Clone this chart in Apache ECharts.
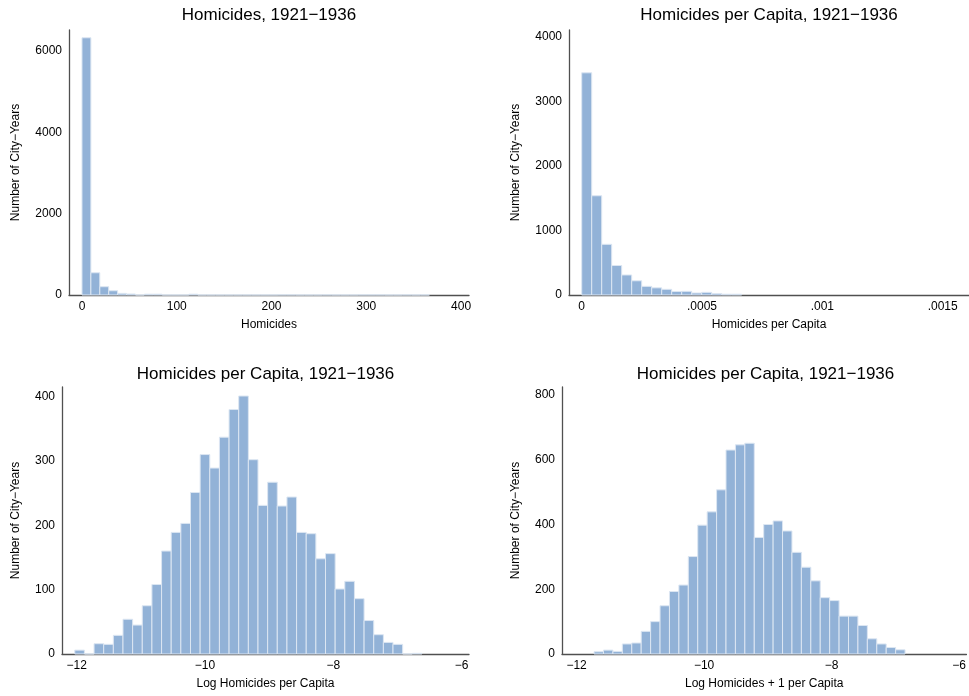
<!DOCTYPE html>
<html>
<head>
<meta charset="utf-8">
<script src="https://cdn.jsdelivr.net/npm/echarts@6/dist/echarts.min.js"></script>
<style>
html,body{margin:0;padding:0;background:#fff;}
#chart{width:969px;height:696px;}
</style>
</head>
<body>
<div id="chart"></div>
<script>
// ---- data ----
const titles = ["Homicides, 1921\u22121936", "Homicides per Capita, 1921\u22121936", "Homicides per Capita, 1921\u22121936", "Homicides per Capita, 1921\u22121936"];
const xNames = ["Homicides", "Homicides per Capita", "Log Homicides per Capita", "Log Homicides + 1 per Capita"];
const yName = "Number of City\u2212Years";

// panel 1: homicides
const bins1Start = 0;
const bins1Width = 9.4;
const counts1 = [6325, 547, 204, 105, 40, 25, 0, 20, 20, 0, 0, 0, 20, 0, 0, 0, 0, 0, 0, 0, 0, 0, 2, 2, 0, 0, 0, 2, 0, 0, 0, 2, 2, 2, 0, 0, 2, 0, 2];
const xTicks1 = [0, 100, 200, 300, 400];
const yTicks1 = [0, 2000, 4000, 6000];

// panel 2: homicides per capita
const bins2Start = 0;
const bins2Width = 0.00004155;
const counts2 = [3441, 1537, 785, 457, 310, 220, 134, 111, 88, 55, 57, 31, 41, 23, 12, 12];
const xTicks2 = [0, 0.0005, 0.001, 0.0015];
const xTickLabels2 = ["0", ".0005", ".001", ".0015"];
const yTicks2 = [0, 1000, 2000, 3000, 4000];

// panel 3: log homicides per capita
const bins3Start = -12.03;
const bins3Width = 0.1503;
const counts3 = [6, 0, 16, 15, 29, 54, 45, 75, 108, 160, 189, 203, 251, 310, 289, 337, 380, 401, 302, 231, 267, 230, 244, 189, 187, 148, 156, 101, 113, 86, 52, 30, 18, 15, 0, 1];
const xTicks3 = [-12, -10, -8, -6];
const yTicks3 = [0, 100, 200, 300, 400];

// panel 4: log homicides + 1 per capita
const bins4Start = -11.726;
const bins4Width = 0.1478;
const counts4 = [7, 12, 8, 31, 34, 70, 100, 149, 193, 213, 301, 398, 439, 507, 630, 646, 651, 360, 400, 411, 380, 314, 268, 226, 174, 165, 117, 117, 88, 47, 31, 20, 13];
const xTicks4 = [-12, -10, -8, -6];
const yTicks4 = [0, 200, 400, 600, 800];

// ---- build ----
function toBins(start, width, counts) {
  return counts.map((c, i) => [start + i * width, start + (i + 1) * width, c]);
}
const panels = [
  {data: toBins(bins1Start, bins1Width, counts1), xTicks: xTicks1, xLabels: null, yTicks: yTicks1,
   grid: {left: 69, top: 30, width: 400, height: 265}, xMin: -13.7, xMax: 408.4, yMax: 6516, yGap: 47, cx: 269, ty: 7},
  {data: toBins(bins2Start, bins2Width, counts2), xTicks: xTicks2, xLabels: xTickLabels2, yTicks: yTicks2,
   grid: {left: 569, top: 30, width: 400, height: 265}, xMin: -0.0000528, xMax: 0.0016094, yMax: 4104, yGap: 47, cx: 769, ty: 7},
  {data: toBins(bins3Start, bins3Width, counts3), xTicks: xTicks3, xLabels: null, yTicks: yTicks3,
   grid: {left: 62, top: 387, width: 407, height: 267}, xMin: -12.229, xMax: -5.886, yMax: 415, yGap: 40, cx: 265.5, ty: 366},
  {data: toBins(bins4Start, bins4Width, counts4), xTicks: xTicks4, xLabels: null, yTicks: yTicks4,
   grid: {left: 562, top: 387, width: 407, height: 267}, xMin: -12.229, xMax: -5.886, yMax: 824.7, yGap: 40, cx: 765.5, ty: 366}
];

const FONT = "'Liberation Sans', Arial, Helvetica, sans-serif";
const axisLine = {show: true, onZero: false, lineStyle: {color: '#505050', width: 1.3}};
const minusFmt = v => String(v).replace('-', '\u2212');

const option = {
  backgroundColor: '#fff',
  animation: false,
  title: panels.map((p, i) => ({
    text: titles[i], left: p.cx, top: p.ty, textAlign: 'center', padding: 0,
    textStyle: {fontFamily: FONT, fontSize: 17, fontWeight: 'normal', color: '#000'}
  })),
  grid: panels.map(p => Object.assign({containLabel: false}, p.grid)),
  xAxis: panels.map((p, i) => ({
    type: 'value', gridIndex: i, min: p.xMin, max: p.xMax,
    name: xNames[i], nameLocation: 'middle', nameGap: 24,
    nameTextStyle: {fontFamily: FONT, fontSize: 12, color: '#000', verticalAlign: 'top'},
    axisLine: axisLine, axisTick: {show: false}, splitLine: {show: false},
    axisLabel: {
      fontFamily: FONT, fontSize: 12, color: '#000', margin: 6,
      customValues: p.xTicks, showMinLabel: true, showMaxLabel: true,
      formatter: v => {
        if (p.xLabels) { const k = p.xTicks.findIndex(t => Math.abs(t - v) < 1e-9); return k >= 0 ? p.xLabels[k] : ''; }
        return minusFmt(v);
      }
    }
  })),
  yAxis: panels.map((p, i) => ({
    type: 'value', gridIndex: i, min: 0, max: p.yMax,
    name: yName, nameLocation: 'middle', nameGap: p.yGap, nameRotate: 90,
    nameTextStyle: {fontFamily: FONT, fontSize: 12, color: '#000'},
    axisLine: axisLine, axisTick: {show: false}, splitLine: {show: false},
    axisLabel: {fontFamily: FONT, fontSize: 12, color: '#000', margin: 7, customValues: p.yTicks,
      formatter: v => String(v)}
  })),
  series: panels.map((p, i) => ({
    type: 'custom', xAxisIndex: i, yAxisIndex: i, data: p.data,
    encode: {x: [0, 1], y: 2},
    renderItem: (params, api) => {
      const a = api.coord([api.value(0), 0]);
      const b = api.coord([api.value(1), api.value(2)]);
      return {
        type: 'rect',
        shape: {x: a[0], y: b[1], width: b[0] - a[0], height: a[1] - b[1]},
        style: {fill: '#92b2d7', stroke: '#dce6f2', lineWidth: 1}
      };
    }
  }))
};

const chart = echarts.init(document.getElementById('chart'), null, {renderer: 'canvas'});
chart.setOption(option);
</script>
</body>
</html>
